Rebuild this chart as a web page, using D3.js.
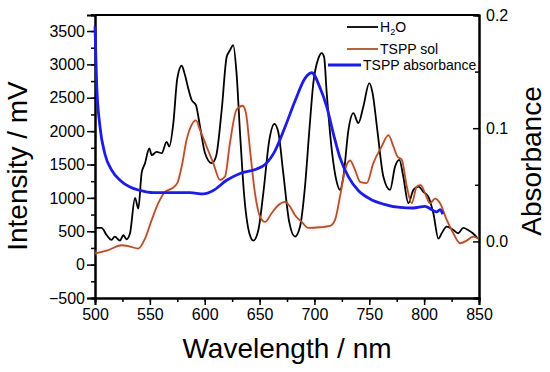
<!DOCTYPE html>
<html>
<head>
<meta charset="utf-8">
<script src="https://cdn.jsdelivr.net/npm/d3@7"></script>
<style>
  body { margin: 0; background: #fff; }
  svg { font-family: "Liberation Sans", Arial, sans-serif; }
</style>
</head>
<body>
<div id="chart"></div>
<script>
// H2O (left axis, mV)
const h2o_nm = [500, 506, 510.7, 515, 518, 522.8, 525.8, 528.8, 531.9, 536.5, 539.5, 542.5, 545.6, 549.5, 551.7, 556.2, 560.8, 565.3, 567.7, 571.4, 575, 579, 582, 585, 588, 592, 595.7, 600.3, 606.4, 610.3, 615.5, 620, 623, 626, 629, 632.2, 635.8, 640.7, 644.3, 648.9, 653.4, 658.9, 663.5, 667, 671.6, 677, 682.3, 686.9, 691.4, 695.4, 699, 703.6, 706.7, 708.8, 711.2, 715.8, 720.3, 723.3, 726.4, 731, 735.5, 740, 744.6, 750, 753, 757.3, 762.8, 768.9, 773.5, 777.4, 781, 785.6, 790.2, 795, 799.3, 803.8, 808.4, 813, 816, 820.5, 826.6, 831, 835.7, 840, 844.4, 849];
const h2o_mv = [550, 550, 440, 370, 420, 360, 440, 380, 470, 1000, 840, 1370, 1520, 1740, 1640, 1690, 1670, 1840, 1770, 2120, 2790, 2980, 2840, 2640, 2470, 2390, 2070, 1670, 1520, 1620, 2320, 3110, 3210, 3290, 2870, 1970, 1070, 470, 360, 520, 1070, 1870, 2110, 1990, 1370, 640, 420, 570, 1170, 2020, 2720, 3090, 3170, 3110, 2570, 1720, 1240, 1120, 1320, 2020, 2270, 2120, 2370, 2720, 2570, 2020, 1320, 1120, 1470, 1570, 1320, 920, 1120, 1170, 1090, 1020, 770, 390, 470, 570, 520, 470, 550, 520, 470, 390];

// TSPP sol (left axis, mV)
const sol_nm = [500, 510.7, 524.3, 532, 539.5, 545.6, 551.7, 557.7, 563.8, 569.9, 575, 579, 583.5, 588, 592, 595.7, 601.7, 607.8, 614, 618.5, 623, 629, 634.6, 637.6, 641.3, 645.8, 650.4, 655, 661, 667, 673.2, 677.7, 682.3, 688.4, 694.4, 705, 714.2, 718.8, 723.3, 727.9, 732.5, 737, 741.6, 747.7, 753.7, 761.3, 767.4, 772, 775.6, 779.6, 784.2, 788.7, 793.3, 796.9, 800.8, 805.4, 810, 814.5, 820.6, 826.6, 832.7, 838.8, 844.8, 849.4];
const sol_mv = [170, 210, 290, 270, 240, 390, 670, 920, 1090, 1140, 1220, 1470, 1870, 2090, 2160, 2020, 1770, 1520, 1270, 1320, 1820, 2320, 2380, 2270, 1720, 1070, 720, 640, 770, 890, 940, 870, 740, 640, 550, 560, 580, 670, 1020, 1420, 1560, 1420, 1240, 1220, 1520, 1770, 1940, 1770, 1620, 1570, 1170, 920, 1170, 1190, 1070, 920, 990, 920, 670, 470, 320, 360, 420, 390];

// TSPP absorbance (right axis)
const abs_nm = [500, 501.5, 504.6, 509.1, 515.2, 522.8, 531.9, 541, 553.1, 571.4, 586.6, 598.8, 607.8, 620, 632.2, 647.4, 655, 664.1, 673.2, 682.3, 691.4, 697.5, 705, 711.2, 717.3, 723.3, 731, 740, 750.7, 762.8, 778, 790, 800.8, 807, 811.4, 814.5, 817];
const abs_val = [0.19, 0.139, 0.101, 0.077, 0.063, 0.054, 0.048, 0.045, 0.043, 0.043, 0.043, 0.042, 0.045, 0.054, 0.060, 0.064, 0.068, 0.080, 0.101, 0.124, 0.144, 0.149, 0.136, 0.119, 0.095, 0.074, 0.057, 0.045, 0.0375, 0.033, 0.030, 0.0295, 0.031, 0.028, 0.026, 0.028, 0.024];

const x_ticks = [500, 550, 600, 650, 700, 750, 800, 850];
const left_ticks = [-500, 0, 500, 1000, 1500, 2000, 2500, 3000, 3500];
const right_ticks = [0.0, 0.1, 0.2];

const W = 550, H = 372;
const margin = { top: 15, right: 71, bottom: 74, left: 95 };
const width = W - margin.left - margin.right;
const height = H - margin.top - margin.bottom;

const sol_color = "#ad5428";
const abs_color = "#1c1ce6";

const svg = d3.select("#chart").append("svg")
    .attr("width", W)
    .attr("height", H);

const g = svg.append("g")
    .attr("transform", `translate(${margin.left},${margin.top})`);

const x = d3.scaleLinear().domain([500, 850]).range([0, width]);
const y = d3.scaleLinear().domain([-500, 3740]).range([height, 0]);
const y2 = d3.scaleLinear().domain([-0.05, 0.2]).range([height, 0]);

const style_axis = (sel) => {
    sel.select(".domain").attr("stroke", "#000").attr("stroke-width", 2);
    sel.selectAll(".tick line").attr("stroke", "#000").attr("stroke-width", 1.5);
    sel.selectAll(".tick text")
        .attr("fill", "#000")
        .style("font-size", "16px")
        .style("font-family", "'Liberation Sans', Arial, sans-serif");
};

// minor ticks first
g.append("g")
    .attr("transform", `translate(0,${height})`)
    .call(d3.axisBottom(x).tickValues(d3.range(500, 851, 25)).tickSize(4).tickFormat(""))
    .call(style_axis);
g.append("g")
    .call(d3.axisLeft(y).tickValues(d3.range(-500, 3751, 250)).tickSize(4).tickFormat(""))
    .call(style_axis);
g.append("g")
    .attr("transform", `translate(${width},0)`)
    .call(d3.axisLeft(y2).tickValues([-0.05, 0.05, 0.15]).tickSize(4).tickFormat(""))
    .call(style_axis);

// major ticks
g.append("g")
    .attr("transform", `translate(0,${height})`)
    .call(d3.axisBottom(x).tickValues(x_ticks).tickSize(7).tickPadding(4).tickFormat(d3.format("d")))
    .call(style_axis);

g.append("g")
    .call(d3.axisLeft(y).tickValues(left_ticks).tickSize(8).tickPadding(2).tickFormat(d3.format("d")))
    .call(style_axis);

const right_axis = g.append("g")
    .attr("transform", `translate(${width},0)`)
    .call(d3.axisLeft(y2).tickValues(right_ticks).tickSize(6).tickFormat(d3.format(".1f")))
    .call(style_axis);
right_axis.selectAll(".tick text")
    .attr("x", 7)
    .attr("text-anchor", "start");

// top frame line
g.append("line")
    .attr("x1", 0).attr("x2", width)
    .attr("y1", 0).attr("y2", 0)
    .attr("stroke", "#000")
    .attr("stroke-width", 2);

const line_left = (xs, ys) => d3.line()
    .x((d, i) => x(xs[i]))
    .y((d, i) => y(ys[i]))
    .curve(d3.curveMonotoneX)(xs);

// faint pink halo under the TSPP sol trace
g.append("path")
    .attr("d", line_left(sol_nm, sol_mv))
    .attr("fill", "none")
    .attr("stroke", "#f8c4e4")
    .attr("stroke-width", 6)
    .attr("opacity", 0.18);

g.append("path")
    .attr("d", line_left(h2o_nm, h2o_mv))
    .attr("fill", "none")
    .attr("stroke", "#000")
    .attr("stroke-width", 1.8)
    .attr("stroke-linejoin", "round");

g.append("path")
    .attr("d", line_left(sol_nm, sol_mv))
    .attr("fill", "none")
    .attr("stroke", sol_color)
    .attr("stroke-width", 1.8)
    .attr("stroke-linejoin", "round");

g.append("path")
    .attr("d", d3.line()
        .x((d, i) => x(abs_nm[i]))
        .y((d, i) => y2(abs_val[i]))
        .curve(d3.curveMonotoneX)(abs_nm))
    .attr("fill", "none")
    .attr("stroke", abs_color)
    .attr("stroke-width", 2.8)
    .attr("stroke-linejoin", "round");

// legend
const legend = [
    { label: "H2O", color: "#000", w: 1.8, x1: 347, x2: 378, y: 27 },
    { label: "TSPP sol", color: sol_color, w: 1.8, x1: 347, x2: 378, y: 49 },
    { label: "TSPP absorbance", color: abs_color, w: 2.8, x1: 328, x2: 361, y: 65 }
];
legend.forEach(d => {
    svg.append("line")
        .attr("x1", d.x1).attr("x2", d.x2)
        .attr("y1", d.y).attr("y2", d.y)
        .attr("stroke", d.color)
        .attr("stroke-width", d.w);
    const t = svg.append("text")
        .attr("x", d.x2 + 2)
        .attr("y", d.y + 5)
        .style("font-size", "14px")
        .attr("fill", "#000");
    if (d.label === "H2O") {
        t.append("tspan").text("H");
        t.append("tspan").attr("dy", 3).style("font-size", "9px").text("2");
        t.append("tspan").attr("dy", -3).text("O");
    } else {
        t.text(d.label);
    }
});

// axis titles
svg.append("text")
    .attr("x", margin.left + width / 2)
    .attr("y", 358)
    .attr("text-anchor", "middle")
    .style("font-size", "28px")
    .text("Wavelength / nm");

svg.append("text")
    .attr("transform", "translate(27,166) rotate(-90)")
    .attr("text-anchor", "middle")
    .style("font-size", "28px")
    .text("Intensity / mV");

svg.append("text")
    .attr("transform", "translate(541,161) rotate(-90)")
    .attr("text-anchor", "middle")
    .style("font-size", "28px")
    .text("Absorbance");
</script>
</body>
</html>
